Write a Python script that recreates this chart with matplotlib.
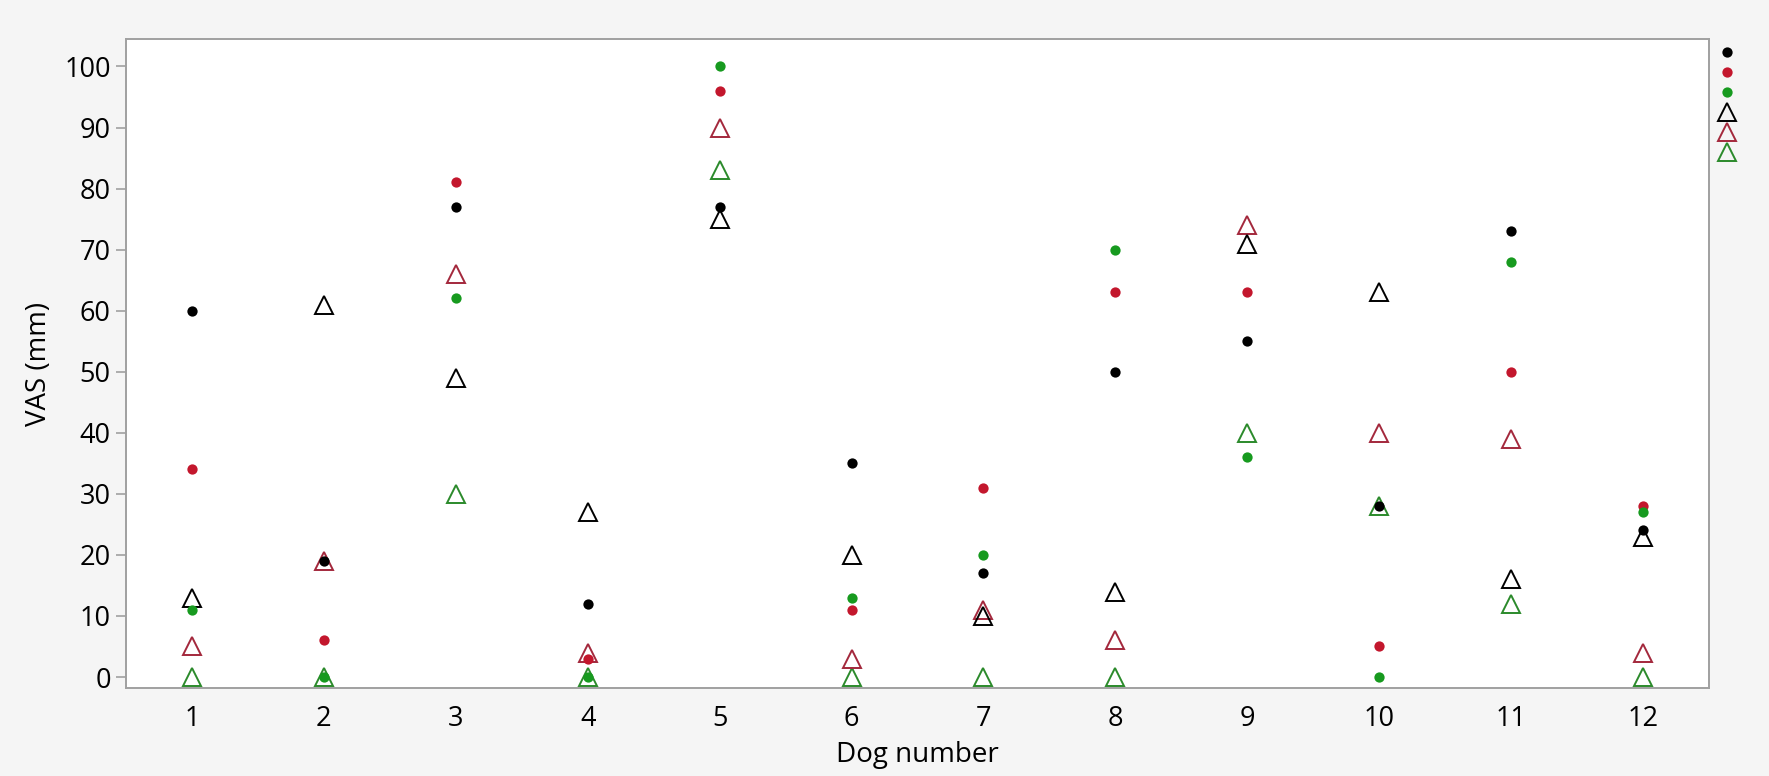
import matplotlib
matplotlib.use("Agg")
import matplotlib.pyplot as plt
from matplotlib.lines import Line2D

dogs = [1, 2, 3, 4, 5, 6, 7, 8, 9, 10, 11, 12]
x_labels = [str(d) for d in dogs]

black_dot = [60, 19, 77, 12, 77, 35, 17, 50, 55, 28, 73, 24]
red_dot = [34, 6, 81, 3, 96, 11, 31, 63, 63, 5, 50, 28]
green_dot = [11, 0, 62, 0, 100, 13, 20, 70, 36, 0, 68, 27]
black_tri = [13, 61, 49, 27, 75, 20, 10, 14, 71, 63, 16, 23]
red_tri = [5, 19, 66, 4, 90, 3, 11, 6, 74, 40, 39, 4]
green_tri = [0, 0, 30, 0, 83, 0, 0, 0, 40, 28, 12, 0]

y_ticks = [0, 10, 20, 30, 40, 50, 60, 70, 80, 90, 100]

plt.rcParams['font.family'] = ['Open Sans', 'DejaVu Sans']

W, H = 1769, 776
fig = plt.figure(figsize=(W / 100, H / 100), dpi=100, facecolor='#f5f5f5')
ax = fig.add_axes([126 / W, 1 - 688 / H, (1709 - 126) / W, (688 - 39) / H])
ax.set_facecolor('white')

c_black = '#000000'
c_red = '#c3172d'
c_green = '#179a1f'
c_red_tri = '#a3283c'
c_green_tri = '#2b8a2b'

tri_kw = dict(marker='^', ms=12.5, mfc='none', mew=1.4, ls='none')
dot_kw = dict(marker='o', ms=7.4, mew=0, ls='none')

ax.plot(dogs, green_tri, mec=c_green_tri, **tri_kw, zorder=3)
ax.plot(dogs, red_tri, mec=c_red_tri, **tri_kw, zorder=3)
ax.plot(dogs, black_tri, mec=c_black, **tri_kw, zorder=3)
ax.plot(dogs, black_dot, mfc=c_black, **dot_kw, zorder=4)
ax.plot(dogs, red_dot, mfc=c_red, **dot_kw, zorder=4)
ax.plot(dogs, green_dot, mfc=c_green, **dot_kw, zorder=4)

ax.set_xlim(0.5, 12.5)
ax.set_ylim(-1.8, 104.5)
ax.set_xticks(dogs)
ax.set_xticklabels(x_labels)
ax.set_yticks(y_ticks)

for s in ax.spines.values():
    s.set_color('#a0a0a0')
    s.set_linewidth(1.4)

ax.tick_params(axis='x', length=0, pad=12, labelsize=19.5)
ax.tick_params(axis='y', length=7, width=1.2, color='#a0a0a0', pad=4, labelsize=19.5)
ax.set_xlabel('Dog number', fontsize=20, labelpad=6)
ax.set_ylabel('VAS (mm)', fontsize=20, labelpad=8)

handles = [
    Line2D([], [], mfc=c_black, **dot_kw),
    Line2D([], [], mfc=c_red, **dot_kw),
    Line2D([], [], mfc=c_green, **dot_kw),
    Line2D([], [], mec=c_black, **tri_kw),
    Line2D([], [], mec=c_red_tri, **tri_kw),
    Line2D([], [], mec=c_green_tri, **tri_kw),
]
fig.legend(handles, [''] * 6, loc='upper left', bbox_to_anchor=(1707 / W, 1 - 34 / H),
           frameon=False, handlelength=1.0, handletextpad=0.0, labelspacing=0.0,
           borderpad=0, fontsize=14.3)

fig.savefig('out.png', dpi=100, facecolor=fig.get_facecolor())
